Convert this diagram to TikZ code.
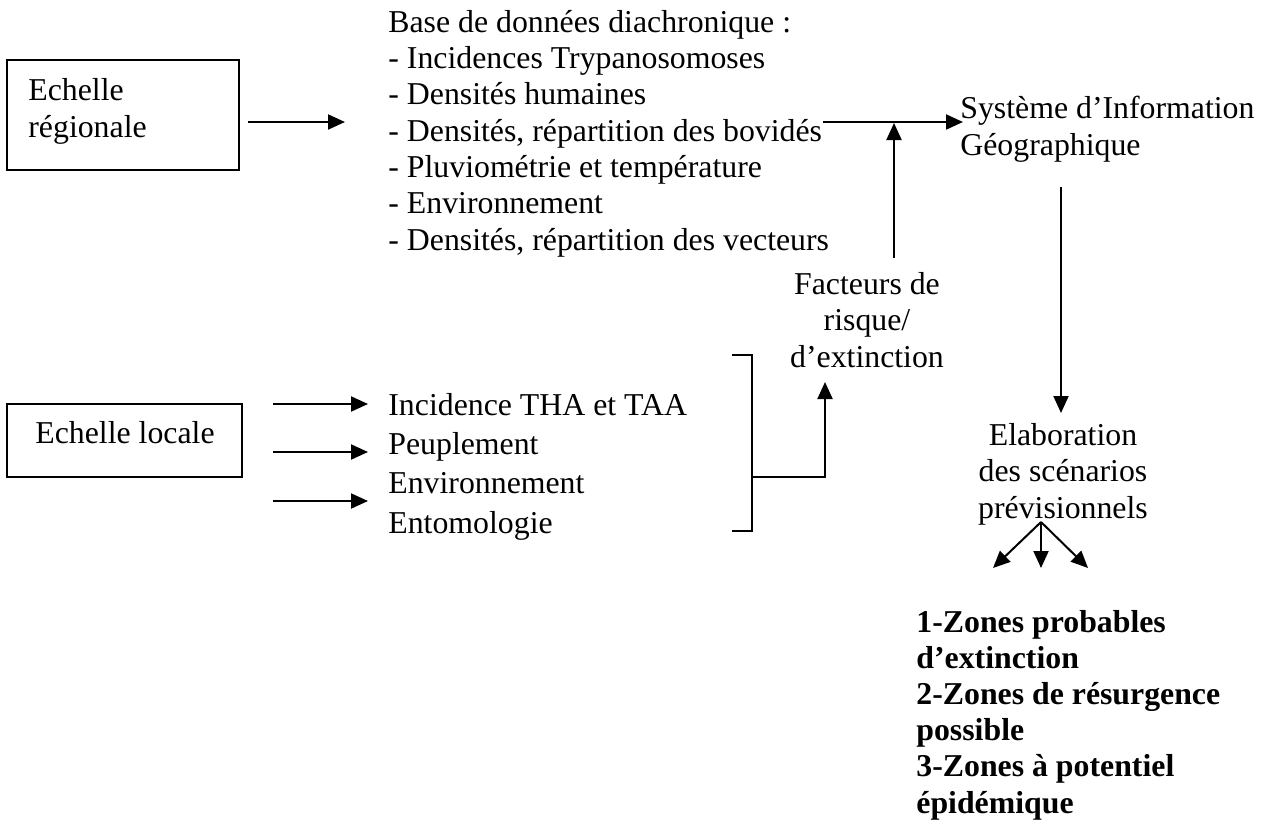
\documentclass[tikz,border=0pt]{standalone}
\usepackage{fontspec}
\setmainfont{Liberation Serif}
\usetikzlibrary{arrows.meta}
\begin{document}
\begin{tikzpicture}[x=0.5pt,y=-0.5pt,
  arr/.style={line width=1pt,-{Triangle[length=8.5pt,width=7.5pt]}},
  ln/.style={line width=1pt},
  boxn/.style={draw,line width=1pt,inner sep=0pt},
  txt/.style={inner sep=0pt,font=\fontsize{15.9}{18.15}\selectfont,align=left,anchor=base west},
  ctxt/.style={inner sep=0pt,font=\fontsize{15.9}{18.15}\selectfont,align=center,anchor=base}]
\useasboundingbox (0,0) rectangle (1272,824);

% boxes (text nodes are anchored at the baseline of their last line)
\node[boxn,minimum width=116pt,minimum height=55pt] (box1) at (123,115) {};
\node[txt] (t1) at (28,137) {Echelle\\régionale};
\node[boxn,minimum width=117.5pt,minimum height=36.5pt] (box2) at (124.5,440.5) {};
\node[txt] (t2) at (35,443) {Echelle locale};

% texts
\node[txt] (bdd) at (388,250) {Base de données diachronique :\\- Incidences Trypanosomoses\\- Densités humaines\\- Densités, répartition des bovidés\\- Pluviométrie et température\\- Environnement\\- Densités, répartition des vecteurs};
\node[txt] (sig) at (960,155) {Système d’Information\\Géographique};
\node[ctxt] (fact) at (867,367) {Facteurs de\\risque/\\d’extinction};
\node[txt,font=\fontsize{15.9}{19.65}\selectfont] (loc) at (388,533) {Incidence THA et TAA\\Peuplement\\Environnement\\Entomologie};
\node[ctxt] (elab) at (1063,518) {Elaboration\\des scénarios\\prévisionnels};
\node[txt,font=\fontsize{15.9}{18.1}\selectfont\bfseries] (zones) at (916,813) {1-Zones probables\\d’extinction\\2-Zones de résurgence\\possible\\3-Zones à potentiel\\épidémique};

% coordinates
\coordinate (bddin) at (345,122);
\coordinate (bovend) at (823,122);
\coordinate (sigin) at (963,122);
\coordinate (factup) at (894,258);
\coordinate (factmeet) at (894,123);
\coordinate (l1) at (368,404);
\coordinate (l2) at (368,452);
\coordinate (l3) at (368,501);
\coordinate (brt) at (732,355);
\coordinate (brb) at (732,531);
\coordinate (brm) at (752,477);
\coordinate (factin) at (825,382);
\coordinate (sigout) at (1061,187);
\coordinate (elabin) at (1061,413);
\coordinate (fork) at (1041,522);
\coordinate (zl) at (993,568);
\coordinate (zm) at (1041,568);
\coordinate (zr) at (1088,568);

% connectors
\draw[arr] (box1.east |- bddin) ++(4pt,0) -- (bddin);
\draw[arr] (bovend) -- (sigin);
\draw[arr] (factup) -- (factmeet);
\draw[arr] (box2.east |- l1) ++(15pt,0) -- (l1);
\draw[arr] (box2.east |- l2) ++(15pt,0) -- (l2);
\draw[arr] (box2.east |- l3) ++(15pt,0) -- (l3);
\draw[ln] (brt) -- ++(10pt,0) -- ([xshift=10pt]brb) -- (brb);
\draw[arr] (brm) -| (factin);
\draw[arr] (sigout) -- (elabin);
\draw[arr] (fork) -- (zl);
\draw[arr] (fork) -- (zm);
\draw[arr] (fork) -- (zr);
\end{tikzpicture}
\end{document}
